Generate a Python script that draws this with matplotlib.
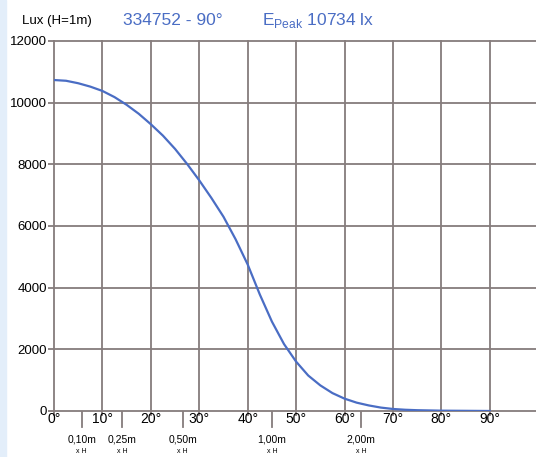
import matplotlib
matplotlib.use("Agg")
import matplotlib.pyplot as plt
import numpy as np
from matplotlib.patches import Rectangle
import matplotlib.transforms as mtrans

plt.rcParams['font.family'] = ['Liberation Sans', 'DejaVu Sans']

# beam angle (deg) vs illuminance (lux) at H=1m
angles = [0, 2.5, 5, 7.5, 10, 12.5, 15, 17.5, 20, 22.5, 25, 27.5, 30, 32.5, 35, 37.5,
          40, 42.5, 45, 47.5, 50, 52.5, 55, 57.5, 60, 62.5, 65, 67.5, 70, 72.5, 75, 80, 85, 90]
lux = [10734, 10710, 10630, 10520, 10380, 10180, 9930, 9640, 9300, 8930, 8500, 8010,
       7480, 6910, 6300, 5570, 4750, 3780, 2900, 2170, 1600, 1150, 830, 580, 400, 270,
       180, 110, 65, 40, 25, 10, 5, 0]

x_ticks = [0, 10, 20, 30, 40, 50, 60, 70, 80, 90]
y_ticks = [0, 2000, 4000, 6000, 8000, 10000, 12000]
dist_labels = ['0,10m', '0,25m', '0,50m', '1,00m', '2,00m']
dist_vals = [0.10, 0.25, 0.50, 1.00, 2.00]

blue = '#4a6dc4'
grid_c = '#857c7c'

fig = plt.figure(figsize=(5.36, 4.57), dpi=100)
fig.patches.append(Rectangle((0, 0), 0.011, 1, transform=fig.transFigure,
                             color='#e3eefa', zorder=0))
ax = fig.add_axes([0.1007, 0.1007, 0.899, 0.8096])
ax.set_xlim(0, 99.5)
ax.set_ylim(0, 12000)

# x in data, y in axes fraction
trans = mtrans.blended_transform_factory(ax.transData, ax.transAxes)

for y in y_ticks:
    ax.axhline(y, color=grid_c, lw=1.3, zorder=1, clip_on=False)
for x in x_ticks:
    ax.plot([x, x], [-0.01, 1], transform=trans, color=grid_c, lw=1.3, zorder=1,
            clip_on=False)

ax.plot(angles, lux, color=blue, lw=1.6, zorder=3)

for s in ax.spines.values():
    s.set_visible(False)
ax.set_xticks(x_ticks)
ax.set_xticklabels([f'{v}°' for v in x_ticks], fontsize=10)
ax.set_yticks(y_ticks)
ax.set_yticklabels([str(v) for v in y_ticks], fontsize=9.5)
ax.tick_params(axis='x', length=0, pad=1)
ax.tick_params(axis='y', length=4, width=1.3, color=grid_c, pad=1)

# distance marks (d = H * tan(angle)), 1 px = 1/370 axes
px = 1 / 370
for d, lab in zip(dist_vals, dist_labels):
    a = np.degrees(np.arctan(d))
    ax.plot([a, a], [-1 * px, -16 * px], transform=trans, color=grid_c, lw=1.3,
            clip_on=False)
    ax.text(a, -29 * px, lab, transform=trans, ha='center', va='center', fontsize=7.5)
    ax.text(a, -41 * px, 'x H', transform=trans, ha='center', va='center', fontsize=5)

fig.text(0.041, 0.955, 'Lux (H=1m)', fontsize=9.5, ha='left', va='center')
fig.text(0.229, 0.955, '334752 - 90°', fontsize=12.5, color=blue, ha='left', va='center')
fig.text(0.489, 0.955, r'E$_{\mathregular{Peak}}$ 10734 lx', fontsize=12.5, color=blue,
         ha='left', va='center')

fig.savefig('out.png', dpi=100)
